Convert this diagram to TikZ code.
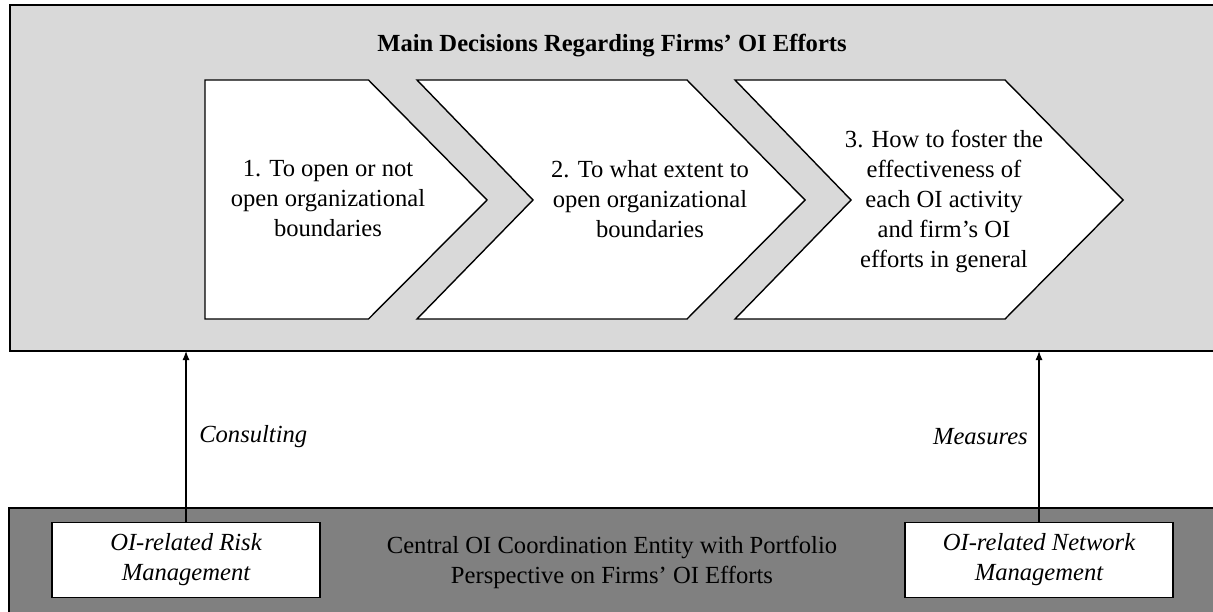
\documentclass[tikz,border=0pt]{standalone}
\usepackage{fontspec}
\setmainfont{Liberation Serif}
\usetikzlibrary{arrows.meta,positioning}

\tikzset{
    panel/.style={draw=black, line width=1pt},
    chevron/.style={draw=black, fill=white, line width=0.7pt},
    chevtext/.style={align=center, font=\fontsize{12.3}{15}\selectfont},
    unitbox/.style={draw=black, fill=white, line width=0.7pt, align=center,
        minimum width=134pt, minimum height=37.5pt,
        font=\itshape\fontsize{12.3}{15}\selectfont},
    flow/.style={-{Latex[length=4.5pt,width=3.5pt]}, line width=0.6pt},
}

\begin{document}
\begin{tikzpicture}[x=0.5pt, y=0.5pt]
        \useasboundingbox (0,0) rectangle (1213,611);
        \clip (0,0) rectangle (1213,611);
        % panels
        \draw[panel, fill=gray!30] (9.5,260) rectangle (1230,605.5);
        \draw[panel, fill=gray] (8.5,-10) rectangle (1230,103.3);
        \coordinate (panelbottom) at (0,260);
        \node[font=\bfseries\fontsize{12.3}{15}\selectfont] (title) at (612,565) {Main Decisions Regarding Firms’ OI Efforts};
        % chevrons
        \draw[chevron] (205,531) -- (368.5,531) -- (487,411) -- (368.5,292) -- (205,292) -- cycle;
        \foreach \dx in {0,318}
            \draw[chevron] (417+\dx,531) -- (687+\dx,531) -- (805+\dx,411) -- (687+\dx,292) -- (417+\dx,292) -- (533+\dx,411) -- cycle;
        \node[chevtext] (open) at (328,412) {1. To open or not\\open organizational\\boundaries};
        \node[chevtext] (extent) at (650,412) {2. To what extent to\\open organizational\\boundaries};
        \node[chevtext] (foster) at (944,410) {3. How to foster the\\effectiveness of\\each OI activity\\and firm’s OI\\efforts in general};
        % coordination entity
        \node[chevtext] (entity) at (612,49) {Central OI Coordination Entity with Portfolio\\Perspective on Firms’ OI Efforts};
        \node[unitbox] (risk) at (186,51) {OI-related Risk\\Management};
        \node[unitbox] (network) at (1039,51) {OI-related Network\\Management};
        \draw[flow] (risk.north) -- (risk.north |- panelbottom) node[midway, right, xshift=3pt, font=\itshape\fontsize{12.3}{15}\selectfont] {Consulting};
        \draw[flow] (network.north) -- (network.north |- panelbottom) node[midway, left, xshift=-2pt, font=\itshape\fontsize{12.3}{15}\selectfont] {Measures};
    \end{tikzpicture}
\end{document}
